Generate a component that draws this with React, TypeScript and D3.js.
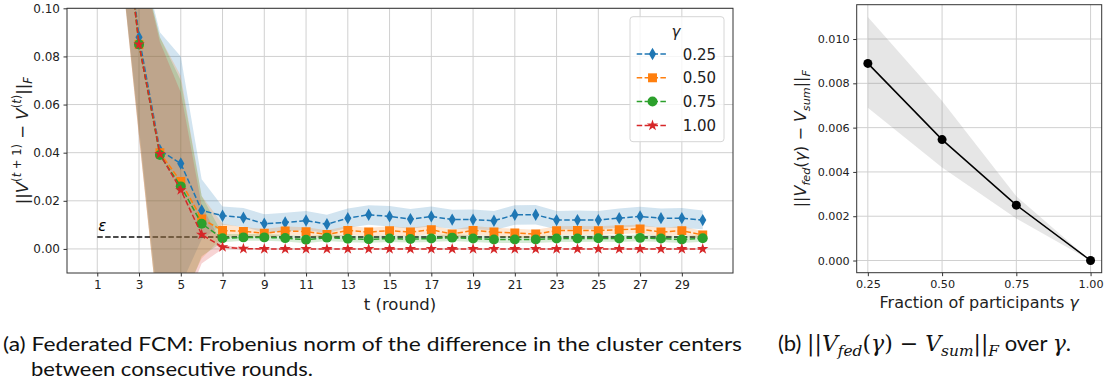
import React, { useEffect, useRef } from "react";
import * as d3 from "d3";

// rounds t = 1..30
const rounds = [1, 2, 3, 4, 5, 6, 7, 8, 9, 10, 11, 12, 13, 14, 15, 16, 17, 18, 19, 20, 21, 22, 23, 24, 25, 26, 27, 28, 29, 30];

const meanG25 = [0.4, 0.16, 0.088, 0.041, 0.0355, 0.016, 0.0138, 0.013, 0.0105, 0.011, 0.0118, 0.0103, 0.0128, 0.0142, 0.0135, 0.0124, 0.0135, 0.0122, 0.0122, 0.0117, 0.0142, 0.0142, 0.012, 0.012, 0.012, 0.0128, 0.0135, 0.0128, 0.0128, 0.012];
const loG25 = [0.3, 0.13, 0.05, -0.03, -0.015, 0.004, 0.01, 0.0092, 0.0068, 0.0072, 0.0079, 0.0065, 0.0088, 0.01, 0.0093, 0.0084, 0.0094, 0.0083, 0.0082, 0.0078, 0.01, 0.0102, 0.0082, 0.0082, 0.0082, 0.0088, 0.0094, 0.0089, 0.0087, 0.0082];
const hiG25 = [0.5, 0.22, 0.125, 0.09, 0.08, 0.029, 0.0176, 0.017, 0.0144, 0.015, 0.0158, 0.0142, 0.0168, 0.0182, 0.0178, 0.0166, 0.0176, 0.0163, 0.0164, 0.0158, 0.0182, 0.0183, 0.0158, 0.016, 0.0158, 0.0168, 0.0175, 0.0168, 0.017, 0.016];

const meanG50 = [0.4, 0.16, 0.085, 0.04, 0.028, 0.0125, 0.0077, 0.0073, 0.0065, 0.0075, 0.0072, 0.006, 0.0077, 0.007, 0.0076, 0.007, 0.008, 0.0062, 0.0077, 0.007, 0.0066, 0.0062, 0.0076, 0.0077, 0.0076, 0.008, 0.0083, 0.007, 0.0076, 0.0058];
const loG50 = [0.3, 0.13, 0.047, -0.035, -0.022, -0.004, 0.005, 0.0055, 0.0047, 0.0057, 0.0054, 0.0043, 0.0059, 0.0052, 0.0058, 0.0052, 0.0062, 0.0045, 0.0059, 0.0052, 0.0048, 0.0045, 0.0058, 0.0059, 0.0058, 0.0062, 0.0065, 0.0052, 0.0058, 0.0041];
const hiG50 = [0.5, 0.2, 0.123, 0.088, 0.072, 0.022, 0.0105, 0.0091, 0.0083, 0.0093, 0.009, 0.0078, 0.0095, 0.0088, 0.0094, 0.0088, 0.0098, 0.008, 0.0095, 0.0088, 0.0084, 0.008, 0.0094, 0.0095, 0.0094, 0.0098, 0.0101, 0.0088, 0.0094, 0.0075];

const meanG75 = [0.4, 0.16, 0.085, 0.039, 0.026, 0.0105, 0.0044, 0.0048, 0.0048, 0.0045, 0.0038, 0.0047, 0.0042, 0.004, 0.0043, 0.0041, 0.0043, 0.0047, 0.0043, 0.0039, 0.0039, 0.0039, 0.0043, 0.0043, 0.0044, 0.0043, 0.0046, 0.0043, 0.0039, 0.0044];
const loG75 = [0.3, 0.13, 0.047, -0.035, -0.025, -0.003, 0.0028, 0.0034, 0.0034, 0.0031, 0.0024, 0.0033, 0.0028, 0.0026, 0.0029, 0.0027, 0.0029, 0.0033, 0.0029, 0.0025, 0.0025, 0.0025, 0.0029, 0.0029, 0.003, 0.0029, 0.0032, 0.0029, 0.0025, 0.003];
const hiG75 = [0.5, 0.2, 0.123, 0.088, 0.07, 0.022, 0.0062, 0.0062, 0.0062, 0.0059, 0.0052, 0.0061, 0.0056, 0.0054, 0.0057, 0.0055, 0.0057, 0.0061, 0.0057, 0.0053, 0.0053, 0.0053, 0.0057, 0.0057, 0.0058, 0.0057, 0.006, 0.0057, 0.0053, 0.0058];

const meanG100 = [0.4, 0.16, 0.085, 0.0395, 0.0245, 0.006, 0.0008, 0.0001, 0, 0, 0, 0, 0, 0, 0, 0, 0, 0, 0, 0, 0, 0, 0, 0, 0, 0, 0, 0, 0, 0];
const loG100 = [0.3, 0.13, 0.046, -0.035, -0.028, -0.006, 0, -0.0003, -0.0002, -0.0002, -0.0002, -0.0002, -0.0002, -0.0002, -0.0002, -0.0002, -0.0002, -0.0002, -0.0002, -0.0002, -0.0002, -0.0002, -0.0002, -0.0002, -0.0002, -0.0002, -0.0002, -0.0002, -0.0002, -0.0002];
const hiG100 = [0.5, 0.2, 0.123, 0.086, 0.065, 0.018, 0.0016, 0.0005, 0.0002, 0.0002, 0.0002, 0.0002, 0.0002, 0.0002, 0.0002, 0.0002, 0.0002, 0.0002, 0.0002, 0.0002, 0.0002, 0.0002, 0.0002, 0.0002, 0.0002, 0.0002, 0.0002, 0.0002, 0.0002, 0.0002];

const gammaLabels = ["0.25", "0.50", "0.75", "1.00"];
const epsilon = 0.005;
const roundTicks = [1, 3, 5, 7, 9, 11, 13, 15, 17, 19, 21, 23, 25, 27, 29];
const normTicks = [0, 0.02, 0.04, 0.06, 0.08, 0.1];

// right panel
const fractions = [0.25, 0.5, 0.75, 1.0];
const distMean = [0.0089, 0.00546, 0.0025, 0.0];
const distLo = [0.0069, 0.0042, 0.0019, 0.0];
const distHi = [0.011, 0.0072, 0.0029, 0.0];
const distTicks = [0, 0.002, 0.004, 0.006, 0.008, 0.01];

type Part = { s: string; it?: boolean; pos?: "sup" | "sub"; fam?: string };

function mathText(sel: any, parts: Part[], size: number) {
  let shift = 0;
  parts.forEach((p) => {
    const target = p.pos === "sup" ? -0.4 * size : p.pos === "sub" ? 0.25 * size : 0;
    const ts = sel
      .append("tspan")
      .attr("dy", target - shift)
      .attr("font-size", p.pos ? size * 0.7 : size)
      .attr("font-style", p.it ? "italic" : "normal")
      .text(p.s);
    if (p.fam) ts.attr("font-family", p.fam);
    shift = target;
  });
}

export default function App() {
  const svgRef = useRef<SVGSVGElement>(null);

  useEffect(() => {
    const svg = d3.select(svgRef.current);
    svg.selectAll("*").remove();
    const font = "DejaVu Sans";

    // ---------- left panel ----------
    const L = { l: 67, r: 733, t: 8.3, b: 273 };
    const x = d3.scaleLinear().domain([-0.45, 31.45]).range([L.l, L.r]);
    const y = d3.scaleLinear().domain([-0.01, 0.1]).range([L.b, L.t]);

    svg.append("clipPath").attr("id", "clipL")
      .append("rect").attr("x", L.l).attr("y", L.t).attr("width", L.r - L.l).attr("height", L.b - L.t);

    const gl = svg.append("g");
    gl.selectAll("line.gx").data(roundTicks).enter().append("line")
      .attr("x1", (d) => x(d)).attr("x2", (d) => x(d)).attr("y1", L.t).attr("y2", L.b)
      .attr("stroke", "#d0d0d0").attr("stroke-width", 1);
    gl.selectAll("line.gy").data(normTicks).enter().append("line")
      .attr("y1", (d) => y(d)).attr("y2", (d) => y(d)).attr("x1", L.l).attr("x2", L.r)
      .attr("stroke", "#d0d0d0").attr("stroke-width", 1);

    const plot = gl.append("g").attr("clip-path", "url(#clipL)");

    // epsilon threshold
    plot.append("line")
      .attr("x1", x(1)).attr("x2", x(30)).attr("y1", y(epsilon)).attr("y2", y(epsilon))
      .attr("stroke", "#111").attr("stroke-width", 1.5).attr("stroke-dasharray", "5.5,2.4");

    const series = [
      { label: gammaLabels[0], color: "#1f77b4", mean: meanG25, lo: loG25, hi: hiG25, sym: d3.symbolDiamond, size: 44 },
      { label: gammaLabels[1], color: "#ff7f0e", mean: meanG50, lo: loG50, hi: hiG50, sym: d3.symbolSquare, size: 80 },
      { label: gammaLabels[2], color: "#2ca02c", mean: meanG75, lo: loG75, hi: hiG75, sym: d3.symbolCircle, size: 78 },
      { label: gammaLabels[3], color: "#d62728", mean: meanG100, lo: loG100, hi: hiG100, sym: d3.symbolStar, size: 40 },
    ];

    series.forEach((s) => {
      const area = d3.area<number>()
        .x((_, i) => x(rounds[i]))
        .y0((_, i) => y(s.lo[i]))
        .y1((_, i) => y(s.hi[i]));
      plot.append("path").attr("d", area(s.mean)).attr("fill", s.color).attr("fill-opacity", 0.2);
    });
    series.forEach((s) => {
      const line = d3.line<number>().x((_, i) => x(rounds[i])).y((d) => y(d));
      plot.append("path").attr("d", line(s.mean)).attr("fill", "none")
        .attr("stroke", s.color).attr("stroke-width", 1.5).attr("stroke-dasharray", "5.5,2.4");
      const sp = d3.symbol().type(s.sym).size(s.size)();
      plot.selectAll(null).data(s.mean).enter().append("path")
        .attr("d", sp)
        .attr("transform", (d, i) => `translate(${x(rounds[i])},${y(d)})`)
        .attr("fill", s.color);
    });

    gl.append("text").attr("x", x(1) + 1).attr("y", y(epsilon) - 6)
      .attr("font-family", font).attr("font-style", "italic").attr("font-size", 15).text("ε");

    gl.append("rect").attr("x", L.l).attr("y", L.t).attr("width", L.r - L.l).attr("height", L.b - L.t)
      .attr("fill", "none").attr("stroke", "#333").attr("stroke-width", 1);

    const ax = gl.append("g").attr("transform", `translate(0,${L.b})`)
      .call(d3.axisBottom(x).tickValues(roundTicks).tickSize(3.5).tickPadding(3.5).tickSizeOuter(0).tickFormat(d3.format("d")));
    const ay = gl.append("g").attr("transform", `translate(${L.l},0)`)
      .call(d3.axisLeft(y).tickValues(normTicks).tickSize(3.5).tickPadding(3.5).tickSizeOuter(0).tickFormat(d3.format(".2f")));
    [ax, ay].forEach((a) => {
      a.select(".domain").remove();
      a.selectAll("text").attr("font-family", font).attr("font-size", 12).attr("fill", "#222");
      a.selectAll("line").attr("stroke", "#333");
    });

    gl.append("text").attr("x", (L.l + L.r) / 2).attr("y", 310).attr("text-anchor", "middle")
      .attr("font-family", font).attr("font-size", 16.5).attr("fill", "#222").text("t (round)");

    const yl = gl.append("text").attr("transform", `translate(28,${(L.t + L.b) / 2}) rotate(-90)`)
      .attr("text-anchor", "middle").attr("font-family", font).attr("fill", "#222").style("white-space", "pre");
    mathText(yl, [
      { s: "||" }, { s: "V", it: true }, { s: "(", pos: "sup" }, { s: "t", it: true, pos: "sup" }, { s: " + 1)", pos: "sup" },
      { s: " − " }, { s: "V", it: true }, { s: "(", pos: "sup" }, { s: "t", it: true, pos: "sup" }, { s: ")", pos: "sup" },
      { s: "||" }, { s: "F", it: true, pos: "sub" },
    ], 16.5);

    // legend
    const lg = gl.append("g");
    lg.append("rect").attr("x", 630).attr("y", 16.7).attr("width", 94).attr("height", 125).attr("rx", 3)
      .attr("fill", "white").attr("fill-opacity", 0.8).attr("stroke", "#d6d6d6");
    lg.append("text").attr("x", 676).attr("y", 37).attr("text-anchor", "middle")
      .attr("font-family", font).attr("font-style", "italic").attr("font-size", 15).attr("fill", "#222").text("γ");
    series.forEach((s, i) => {
      const cy = 54 + i * 23.8;
      lg.append("line").attr("x1", 636.7).attr("x2", 668.3).attr("y1", cy).attr("y2", cy)
        .attr("stroke", s.color).attr("stroke-width", 1.5).attr("stroke-dasharray", "5.5,2.4");
      lg.append("path").attr("d", d3.symbol().type(s.sym).size(s.size)())
        .attr("transform", `translate(652.5,${cy})`).attr("fill", s.color);
      lg.append("text").attr("x", 682.7).attr("y", cy + 5.5)
        .attr("font-family", font).attr("font-size", 15).attr("fill", "#222").text(s.label);
    });

    // ---------- right panel ----------
    const R = { l: 856.7, r: 1101.7, t: 4.7, b: 272.7 };
    const x2 = d3.scaleLinear().domain([0.2125, 1.0375]).range([R.l, R.r]);
    const y2 = d3.scaleLinear().domain([-0.00055, 0.01155]).range([R.b, R.t]);
    const gr = svg.append("g");
    gr.selectAll("line.gx").data(fractions).enter().append("line")
      .attr("x1", (d) => x2(d)).attr("x2", (d) => x2(d)).attr("y1", R.t).attr("y2", R.b)
      .attr("stroke", "#d0d0d0").attr("stroke-width", 1);
    gr.selectAll("line.gy").data(distTicks).enter().append("line")
      .attr("y1", (d) => y2(d)).attr("y2", (d) => y2(d)).attr("x1", R.l).attr("x2", R.r)
      .attr("stroke", "#d0d0d0").attr("stroke-width", 1);

    const area2 = d3.area<number>().x((_, i) => x2(fractions[i])).y0((_, i) => y2(distLo[i])).y1((_, i) => y2(distHi[i]));
    gr.append("path").attr("d", area2(distMean)).attr("fill", "#808080").attr("fill-opacity", 0.2);
    const line2 = d3.line<number>().x((_, i) => x2(fractions[i])).y((d) => y2(d));
    gr.append("path").attr("d", line2(distMean)).attr("fill", "none").attr("stroke", "#000").attr("stroke-width", 1.5);
    gr.selectAll("circle.pt").data(distMean).enter().append("circle")
      .attr("cx", (_, i) => x2(fractions[i])).attr("cy", (d) => y2(d)).attr("r", 4.5).attr("fill", "#000");

    gr.append("rect").attr("x", R.l).attr("y", R.t).attr("width", R.r - R.l).attr("height", R.b - R.t)
      .attr("fill", "none").attr("stroke", "#333").attr("stroke-width", 1);

    const bx = gr.append("g").attr("transform", `translate(0,${R.b})`)
      .call(d3.axisBottom(x2).tickValues(fractions).tickSize(3.5).tickPadding(3.5).tickSizeOuter(0).tickFormat(d3.format(".2f")));
    const by = gr.append("g").attr("transform", `translate(${R.l},0)`)
      .call(d3.axisLeft(y2).tickValues(distTicks).tickSize(3.5).tickPadding(3.5).tickSizeOuter(0).tickFormat(d3.format(".3f")));
    [bx, by].forEach((a) => {
      a.select(".domain").remove();
      a.selectAll("text").attr("font-family", font).attr("font-size", 11.2).attr("fill", "#222");
      a.selectAll("line").attr("stroke", "#333");
    });

    const xl2 = gr.append("text").attr("x", (R.l + R.r) / 2).attr("y", 308).attr("text-anchor", "middle")
      .attr("font-family", font).attr("fill", "#222").style("white-space", "pre");
    mathText(xl2, [{ s: "Fraction of participants " }, { s: "γ", it: true }], 16);

    const yl2 = gr.append("text").attr("transform", `translate(806,${(R.t + R.b) / 2}) rotate(-90)`)
      .attr("text-anchor", "middle").attr("font-family", font).attr("fill", "#222").style("white-space", "pre");
    mathText(yl2, [
      { s: "||" }, { s: "V", it: true }, { s: "fed", it: true, pos: "sub" }, { s: "(" }, { s: "γ", it: true }, { s: ")" },
      { s: " − " }, { s: "V", it: true }, { s: "sum", it: true, pos: "sub" }, { s: "||" }, { s: "F", it: true, pos: "sub" },
    ], 16);

    // ---------- captions ----------
    const capFont = "Lato";
    const cap = svg.append("g").attr("fill", "#111");
    cap.append("text").attr("x", 3).attr("y", 350.5).attr("font-family", capFont).attr("font-size", 18.5)
      .attr("textLength", 739).attr("lengthAdjust", "spacingAndGlyphs")
      .text("(a) Federated FCM: Frobenius norm of the difference in the cluster centers");
    cap.append("text").attr("x", 31).attr("y", 375.5).attr("font-family", capFont).attr("font-size", 18.5)
      .attr("textLength", 282).attr("lengthAdjust", "spacingAndGlyphs")
      .text("between consecutive rounds.");
    const capB = cap.append("text").attr("x", 778).attr("y", 350.5).attr("font-family", capFont)
      .style("white-space", "pre");
    const serif = "DejaVu Serif";
    mathText(capB, [
      { s: "(b) " }, { s: "||", fam: serif }, { s: "V", it: true, fam: serif }, { s: "fed", it: true, pos: "sub", fam: serif },
      { s: "(", fam: serif }, { s: "γ", it: true, fam: serif }, { s: ") − ", fam: serif }, { s: "V", it: true, fam: serif },
      { s: "sum", it: true, pos: "sub", fam: serif }, { s: "||", fam: serif }, { s: "F", it: true, pos: "sub", fam: serif },
      { s: " over " }, { s: "γ", it: true, fam: serif }, { s: "." },
    ], 22);
  }, []);

  return (
    <svg
      ref={svgRef}
      width={1107}
      height={389}
      style={{ position: "fixed", left: 0, top: 0, background: "white" }}
    />
  );
}
